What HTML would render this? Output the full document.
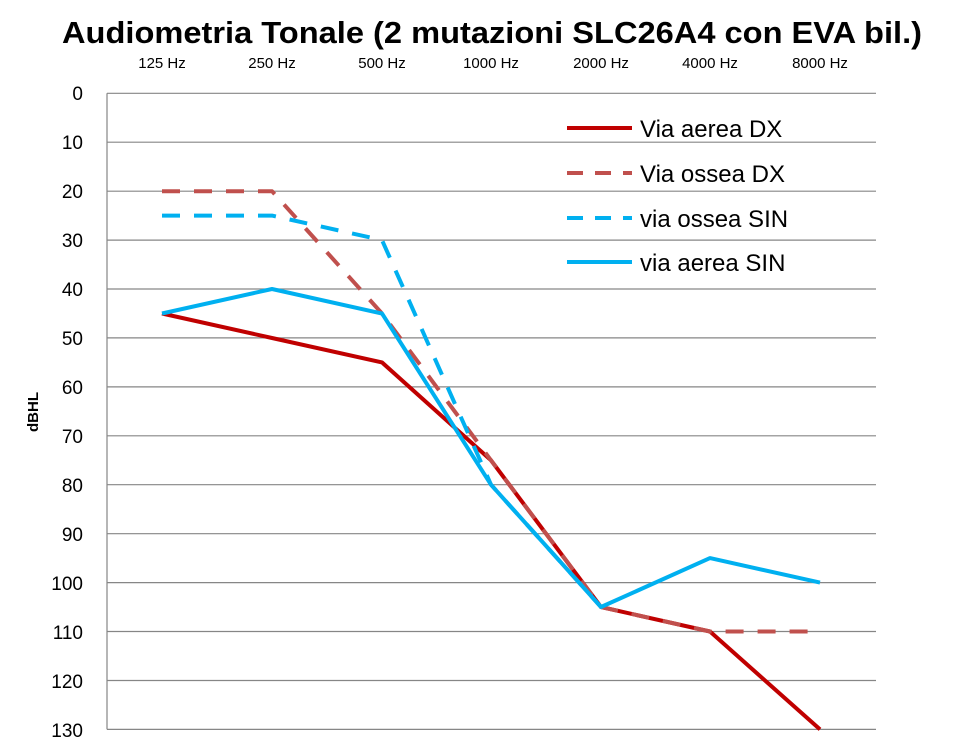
<!DOCTYPE html>
<html><head><meta charset="utf-8"><style>body{margin:0;background:#fff}</style></head><body>
<svg width="964" height="745" xmlns="http://www.w3.org/2000/svg" font-family="Liberation Sans, sans-serif">
<text x="62" y="43" textLength="860" lengthAdjust="spacingAndGlyphs" font-size="31" font-weight="bold" fill="#000">Audiometria Tonale (2 mutazioni SLC26A4 con EVA bil.)</text>
<g font-size="15" text-anchor="middle" fill="#000">
<text x="162" y="68">125 Hz</text><text x="272" y="68">250 Hz</text><text x="382" y="68">500 Hz</text><text x="491" y="68">1000 Hz</text><text x="601" y="68">2000 Hz</text><text x="710" y="68">4000 Hz</text><text x="820" y="68">8000 Hz</text>
</g>
<g stroke="#868686" stroke-width="1.2">
<line x1="107" y1="93.3" x2="876" y2="93.3"/><line x1="107" y1="142.2" x2="876" y2="142.2"/><line x1="107" y1="191.2" x2="876" y2="191.2"/><line x1="107" y1="240.1" x2="876" y2="240.1"/><line x1="107" y1="289" x2="876" y2="289"/><line x1="107" y1="337.9" x2="876" y2="337.9"/><line x1="107" y1="386.9" x2="876" y2="386.9"/><line x1="107" y1="435.8" x2="876" y2="435.8"/><line x1="107" y1="484.7" x2="876" y2="484.7"/><line x1="107" y1="533.7" x2="876" y2="533.7"/><line x1="107" y1="582.6" x2="876" y2="582.6"/><line x1="107" y1="631.5" x2="876" y2="631.5"/><line x1="107" y1="680.5" x2="876" y2="680.5"/><line x1="107" y1="729.4" x2="876" y2="729.4"/>
<line x1="107" y1="93.3" x2="107" y2="729.4"/>
</g>
<g font-size="19" text-anchor="end" fill="#000">
<text x="83" y="100">0</text><text x="83" y="149">10</text><text x="83" y="198">20</text><text x="83" y="247">30</text><text x="83" y="296">40</text><text x="83" y="345">50</text><text x="83" y="394">60</text><text x="83" y="443">70</text><text x="83" y="492">80</text><text x="83" y="541">90</text><text x="83" y="590">100</text><text x="83" y="639">110</text><text x="83" y="688">120</text><text x="83" y="737">130</text>
</g>
<text transform="translate(38,412) rotate(-90)" text-anchor="middle" font-size="15" font-weight="bold">dBHL</text>
<g fill="none" stroke-width="4" stroke-linejoin="round">
<polyline stroke="#c00000" points="162,313.5 272,338 382,362.4 491,460.3 601,607 710,631.5 820,729.4"/>
<polyline stroke="#c0504d" stroke-dasharray="18,14" points="162,191.2 272,191.2 382,313.5 491,460.3 601,607 710,631.5 820,631.5"/>
<polyline stroke="#00b0f0" stroke-dasharray="18,14" points="162,215.6 272,215.6 382,240.1 491,484.7 601,607"/>
<polyline stroke="#00b0f0" points="162,313.5 272,289 382,313.5 491,484.7 601,607 710,558.1 820,582.6"/>
</g>
<g stroke-width="4">
<line x1="567" y1="128" x2="632" y2="128" stroke="#c00000"/>
<line x1="567" y1="173" x2="632" y2="173" stroke="#c0504d" stroke-dasharray="16,12"/>
<line x1="567" y1="218" x2="632" y2="218" stroke="#00b0f0" stroke-dasharray="16,12"/>
<line x1="567" y1="262" x2="632" y2="262" stroke="#00b0f0"/>
</g>
<g font-size="24" fill="#000">
<text x="640" y="137">Via aerea DX</text><text x="640" y="182">Via ossea DX</text><text x="640" y="227">via ossea SIN</text><text x="640" y="271">via aerea SIN</text>
</g>
</svg>
</body></html>
